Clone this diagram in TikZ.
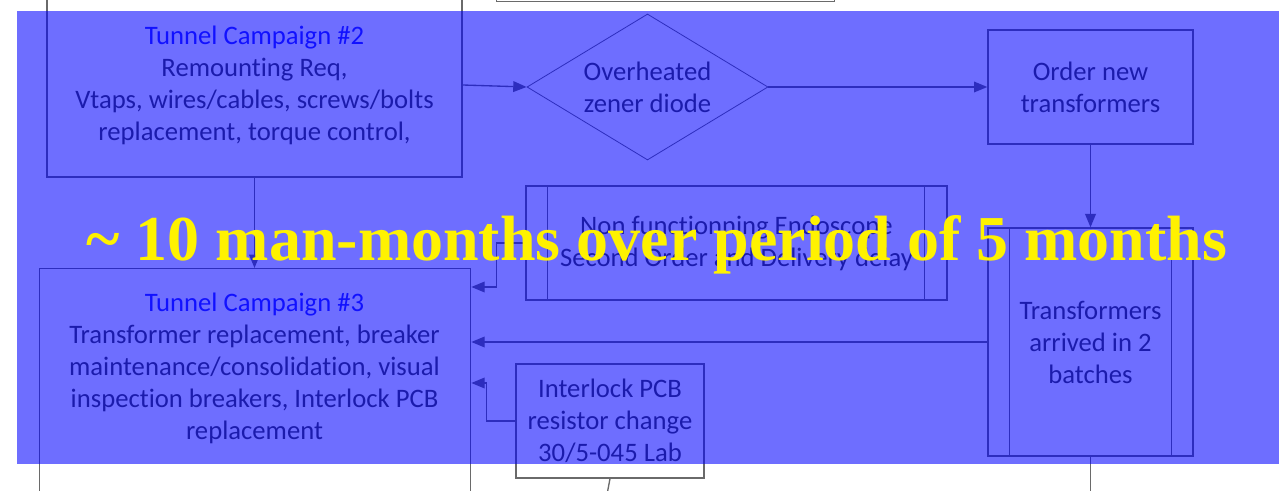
\documentclass[tikz,border=0pt]{standalone}
\usepackage{fontspec}
\setmainfont{Carlito}[Ligatures=NoCommon]
\newfontfamily\yfont{Liberation Serif}
\usetikzlibrary{shapes.geometric,arrows.meta,calc}
\definecolor{lncol}{HTML}{6A6A6A}
\definecolor{txcol}{HTML}{404040}
\definecolor{ttl}{HTML}{2828FF}
\begin{document}
\begin{tikzpicture}[x=0.75pt,y=-0.75pt,
  box/.style={draw=lncol, line width=1pt, inner sep=0pt, font=\fontsize{20}{24}\selectfont, text=txcol, align=center},
  txtnode/.style={inner sep=0pt, font=\fontsize{20}{24}\selectfont, text=txcol, align=center},
  conn/.style={draw=lncol, line width=1pt, -{Triangle[length=10pt,width=8pt]}},
  plain/.style={draw=lncol, line width=1pt}]
\clip (0,0) rectangle (1279,491);
\fill[white] (0,0) rectangle (1279,491);
% boxes
\node[box, minimum width=311.25pt, minimum height=138pt] (tc2) at (254.5,85)
  {\textcolor{ttl}{Tunnel Campaign \#2}\\Remounting Req,\\Vtaps, wires/cables, screws/bolts\\replacement, torque control,};
\node[box, minimum width=253.5pt, minimum height=60pt, anchor=south west] (topbox) at (496,2) {};
\node[diamond, shape aspect=1.65, draw=lncol, line width=0.6pt, minimum width=180.75pt, minimum height=109.5pt, inner sep=0pt,
  font=\fontsize{20}{24}\selectfont, text=txcol, align=center] (dia) at (647.5,87) {Overheated\\zener diode};
\node[box, minimum width=153.75pt, minimum height=85.5pt] (ord) at (1090.5,87) {Order new\\transformers};
\node[box, minimum width=153.75pt, minimum height=171pt] (trf) at (1090.5,342) {Transformers\\arrived in 2\\batches};
\draw[plain] ($(trf.north west)+(22,0)$) -- ($(trf.south west)+(22,0)$);
\draw[plain] ($(trf.north east)+(-22,0)$) -- ($(trf.south east)+(-22,0)$);
\node[box, minimum width=315.75pt, minimum height=85.5pt] (endo) at (736.5,243)
  {Non functionning Endoscope\\Second Order and Delivery delay};
\draw[plain] ($(endo.north west)+(22,0)$) -- ($(endo.south west)+(22,0)$);
\draw[plain] ($(endo.north east)+(-23,0)$) -- ($(endo.south east)+(-23,0)$);
\node[box, minimum width=323.25pt, minimum height=210pt, anchor=north west] (tc3) at (39,268) {};
\node[txtnode] (tc3t) at (254.5,368)
  {\textcolor{ttl}{Tunnel Campaign \#3}\\Transformer replacement, breaker\\maintenance/consolidation, visual\\inspection breakers, Interlock PCB\\replacement};
\node[box, minimum width=141pt, minimum height=85.5pt] (ilk) at (610,421) {Interlock PCB\\resistor change\\30/5-045 Lab};
% connectors
\draw[conn] (tc2.south) -- (tc2.south |- tc3.north);
\draw[conn] (tc2.east) -- (dia.west);
\draw[conn] (dia.east) -- (ord.west);
\draw[conn] (ord.south) -- (trf.north);
\draw[conn] (trf.west) -- (trf.west -| tc3.east);
\draw[conn] (endo.west) -- ++(-29,0) |- ($(tc3.north east)+(0,19)$);
\draw[conn] (ilk.west) -- ++(-29,0) |- ($(tc3.north east)+(0,115)$);
\coordinate (trfend) at (1090.5,500);
\draw[plain] (trf.south) -- (trfend);
\coordinate (ilkend) at (606,500);
\draw[plain] (ilk.south) -- (ilkend);
% overlay
\fill[blue, fill opacity=0.57] (17,11) rectangle (1279,464);
\node[text=yellow, font=\yfont\bfseries\fontsize{48}{50}\selectfont, anchor=base, inner sep=0pt] (ytxt) at (657,261)
  {\textasciitilde{} 10 man-months over period of 5 months};
\end{tikzpicture}
\end{document}
